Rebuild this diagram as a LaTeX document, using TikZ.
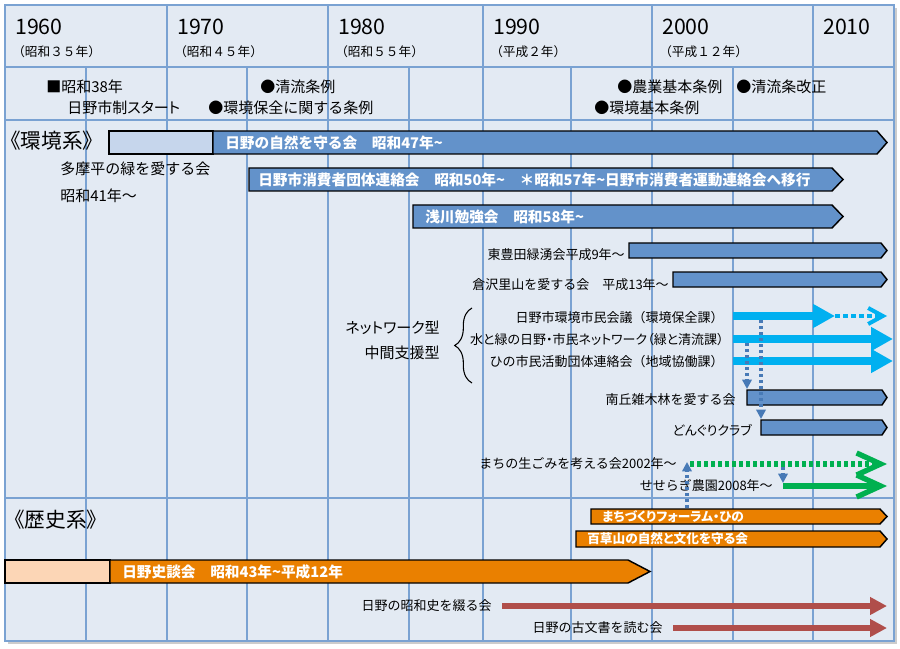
\documentclass[tikz,border=0pt]{standalone}
\usepackage{fontspec}
\setmainfont{Noto Sans CJK JP}
\newfontfamily\jpp{Noto Sans CJK JP}[RawFeature=+palt]
\usetikzlibrary{positioning,arrows.meta,decorations.pathreplacing}
\definecolor{bgblue}{RGB}{227,234,243}
\definecolor{gridblue}{RGB}{122,162,210}
\definecolor{barblue}{RGB}{99,146,202}
\definecolor{barpale}{RGB}{198,214,236}
\definecolor{barorange}{RGB}{234,128,0}
\definecolor{orangepale}{RGB}{252,214,182}
\definecolor{netcyan}{RGB}{0,176,240}
\definecolor{netgreen}{RGB}{0,176,80}
\definecolor{histred}{RGB}{176,78,74}
\definecolor{dotblue}{RGB}{72,122,182}
\tikzset{gline/.style={draw=gridblue, line width=1.1pt}}
\tikzset{bbar/.style={draw=black, line width=1.1pt, fill=barblue}}
\tikzset{pbar/.style={bbar, fill=barpale}}
\tikzset{obar/.style={bbar, fill=barorange}}
\tikzset{opbar/.style={bbar, fill=orangepale}}
\tikzset{lbl/.style={inner sep=0pt, anchor=west, font=\fontsize{11.25}{13}\selectfont}}
\tikzset{lblr/.style={lbl, anchor=east}}
\tikzset{lbls/.style={lbl, font=\fontsize{9.75}{12}\selectfont}}
\tikzset{lblsr/.style={lbls, anchor=east}}
\tikzset{yr/.style={lbl, font=\fontsize{16}{19}\selectfont}}
\tikzset{era/.style={lbl, font=\fontsize{9.5}{11}\selectfont}}
\tikzset{grp/.style={lbl, font=\fontsize{15.5}{18}\selectfont}}
\tikzset{barlbl/.style={lbl, text=white, font=\bfseries\fontsize{11}{13}\selectfont}}
\tikzset{barlbls/.style={barlbl, font=\jpp\bfseries\fontsize{9.5}{11}\selectfont}}
\tikzset{arrc/.style={draw=netcyan, line width=6pt, -{Triangle[length=16.5pt,width=17pt]}}}
\tikzset{arrcd/.style={draw=netcyan, line width=3pt, dash pattern=on 3.75pt off 2.25pt, -{Straight Barb[length=11pt,width=12pt]}}}
\tikzset{arrg/.style={draw=netgreen, line width=4pt, -{Straight Barb[length=18pt,width=16.5pt]}}}
\tikzset{arrgd/.style={arrg, dash pattern=on 3pt off 2.25pt}}
\tikzset{arrd/.style={draw=dotblue, line width=2.6pt, dash pattern=on 2.25pt off 2.25pt, -{Triangle[length=7pt,width=7pt]}}}
\tikzset{arrh/.style={draw=histred, line width=4.5pt, -{Triangle[length=12.75pt,width=12.75pt]}}}
\newcommand{\tlbar}[6]{\draw[#1] (#2,#4) -- ({#3-#6},#4) -- (#3,{(#4+#5)/2}) -- ({#3-#6},#5) -- (#2,#5) -- cycle;}
\begin{document}
\begin{tikzpicture}[x=0.75pt,y=-0.75pt]
\useasboundingbox (0,0) rectangle (900,649);
% frame and grid
\draw[black!20, line width=1.5pt] (8,643) -- (896,643) -- (896,8);
\fill[bgblue] (5,5) rectangle (894,641);
\foreach \x in {167,328,483,652,813} \draw[gline] (\x,5) -- (\x,641);
\foreach \x in {86,247,409,571,733} \draw[gline] (\x,67) -- (\x,641);
\foreach \y in {67,120,498} \draw[gline] (5,\y) -- (894,\y);
\draw[gline] (5,5) rectangle (894,641);
% years
\foreach \x/\yy in {15/1960,177/1970,338/1980,493/1990,662/2000,823/2010}
  \node[yr] (y\yy) at (\x,27) {\yy};
\foreach \x/\e/\yy in {12/昭和３５年/1960,174/昭和４５年/1970,335/昭和５５年/1980,490/平成２年/1990,659/平成１２年/2000}
  \node[era] (e\yy) at (\x,52) {（\e）};
% events
\node[lbl] (showa38) at (46,87) {■昭和38年};
\node[lbl] (shisei) at (67,108) {\jpp 日野市制スタート};
\node[lbl] (seiryu) at (260,87) {●清流条例};
\node[lbl] (hozen) at (208,108) {●環境保全に関する条例};
\node[lbl] (nogyo) at (617,87) {●農業基本条例};
\node[lbl] (kaisei) at (736,87) {●清流条改正};
\node[lbl] (kihon) at (594,108) {●環境基本条例};
% environment
\node[grp] (kankyo) at (0,141) {《環境系》};
\draw[pbar] (109,131) rectangle (213,154);
\tlbar{bbar}{213}{887}{131}{154}{10}
\node[barlbl] (shizen) at (225,142.5) {日野の自然を守る会　昭和47年\textasciitilde};
\node[lbl] (tama) at (60,169) {多摩平の緑を愛する会};
\node[lbl, below=20pt of tama.west, anchor=west] (tama41) {昭和41年～};
\tlbar{bbar}{249}{843}{168}{191}{11}
\node[barlbl] (shohi) at (258,179.5) {日野市消費者団体連絡会　昭和50年\textasciitilde　＊昭和57年\textasciitilde 日野市消費者運動連絡会へ移行};
\tlbar{bbar}{413}{843}{205}{228}{11}
\node[barlbl] (asakawa) at (425,216.5) {浅川勉強会　昭和58年\textasciitilde};
\tlbar{bbar}{629}{887}{243}{258}{6}
\node[lblsr] (toyoda) at (625,255) {東豊田緑湧会平成9年～};
\tlbar{bbar}{673}{887}{272}{287}{6}
\node[lblsr] (kurasawa) at (669,285) {倉沢里山を愛する会　平成13年～};
% network
\node[lblr] (network) at (440,328) {\jpp ネットワーク型};
\node[lblr] (chukan) at (440,353) {中間支援型};
\draw[decorate, decoration={brace, amplitude=13pt}, line width=0.8pt] (472,383) -- (472,308);
\node[lblsr] (kaigi) at (724,318) {日野市環境市民会議（環境保全課）};
\node[lblsr] (mizu) at (724,340) {\jpp 水と緑の日野・市民ネットワーク（緑と清流課）};
\node[lblsr] (hinoren) at (724,362) {ひの市民活動団体連絡会（地域協働課）};
\coordinate (kaigiS) at (733,316);
\coordinate (kaigiM) at (835,316);
\coordinate (kaigiE) at (887,316);
\coordinate (mizuS) at (733,339);
\coordinate (mizuE) at (893,339);
\coordinate (hinoS) at (733,361);
\coordinate (hinoE) at (893,361);
\draw[arrc] (kaigiS) -- (kaigiM);
\draw[arrcd] (kaigiM) -- (kaigiE);
\draw[arrc] (mizuS) -- (mizuE);
\draw[arrc] (hinoS) -- (hinoE);
\tlbar{bbar}{747}{887}{390}{405}{5}
\node[lblsr] (minami) at (736,400) {南丘雑木林を愛する会};
\tlbar{bbar}{761}{887}{420}{435}{5}
\node[lblsr] (donguri) at (752,430) {\jpp どんぐりクラブ};
\coordinate (minamiT) at (747,389);
\coordinate (donguriT) at (761,419);
\draw[arrd] (747,343) -- (minamiT);
\draw[arrd] (761,320) -- (donguriT);
% green
\node[lblsr] (namagomi) at (677,464) {まちの生ごみを考える会2002年～};
\node[lblsr] (seseragi) at (773,486) {せせらぎ農園2008年～};
\coordinate (gomiS) at (690,464);
\coordinate (gomiE) at (887,464);
\coordinate (nouenS) at (783,486);
\coordinate (nouenE) at (887,486);
\draw[arrgd] (gomiS) -- (gomiE);
\draw[arrg] (nouenS) -- (nouenE);
\draw[arrd] (783,467) -- (783,483);
% history
\node[grp] (rekishi) at (4,520) {《歴史系》};
\tlbar{obar}{591}{887}{509}{524}{7}
\node[barlbls] (machi) at (602,516.5) {まちづくりフォーラム・ひの};
\draw[arrd] (687,508) -- (687,462);
\tlbar{obar}{576}{887}{531}{547}{7}
\node[barlbls] (mogusa) at (587,539) {百草山の自然と文化を守る会};
\draw[opbar] (5,560) rectangle (110,583);
\tlbar{obar}{110}{650}{560}{583}{22}
\node[barlbl] (shidan) at (122,571.5) {日野史談会　昭和43年\textasciitilde 平成12年};
\node[lblsr] (showashi) at (492,606) {日野の昭和史を綴る会};
\node[lblsr] (komonjo) at (663,628) {日野の古文書を読む会};
\coordinate (showaS) at (502,606);
\coordinate (showaE) at (887,606);
\coordinate (komonS) at (673,628);
\coordinate (komonE) at (887,628);
\draw[arrh] (showaS) -- (showaE);
\draw[arrh] (komonS) -- (komonE);
\end{tikzpicture}
\end{document}
